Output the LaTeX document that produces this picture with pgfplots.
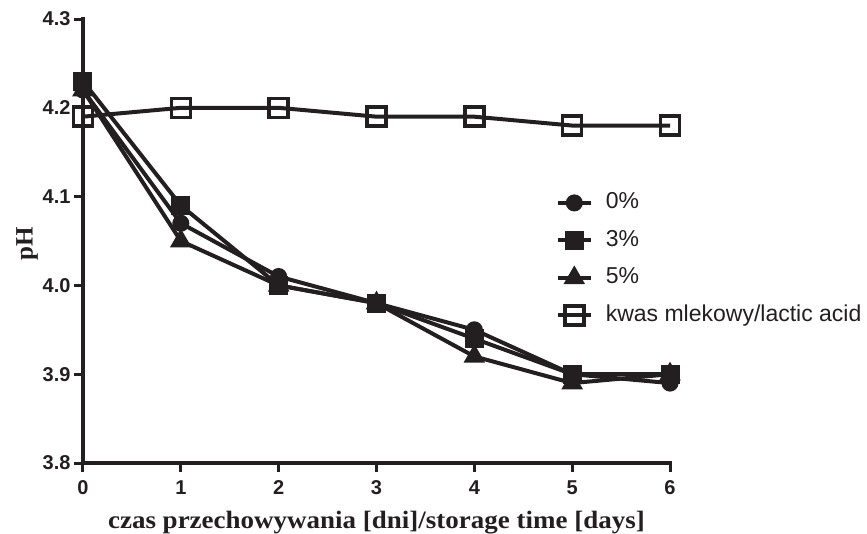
\documentclass[border=0pt]{standalone}
\usepackage{pgfplots}
\pgfplotsset{compat=1.18}
\usepackage{fontspec}
\setmainfont{Liberation Serif}
\setsansfont{Liberation Sans}
\newfontfamily\labelfont[FakeStretch=1.08]{Liberation Serif}
\definecolor{ink}{HTML}{231F20}
\begin{document}
\begin{tikzpicture}
\useasboundingbox (-83pt,-70pt) rectangle (784pt,463pt);
\begin{axis}[
  at={(0pt,0pt)}, anchor=south west,
  scale only axis, width=587pt, height=444pt,
  xmin=0, xmax=6, ymin=3.8, ymax=4.3,
  axis lines*=left,
  axis line style={line width=4pt, line cap=rect, ink},
  xtick={0,...,6}, ytick={3.8,3.9,4.0,4.1,4.2,4.3},
  yticklabel style={/pgf/number format/.cd, fixed, fixed zerofill, precision=1},
  xticklabel style={yshift=-5pt},
  tick style={line width=3pt, ink},
  tick align=outside, major tick length=9pt,
  minor tick num=0,
  tick label style={font=\sffamily\bfseries\fontsize{20}{22}\selectfont, text=ink},
  /pgf/number format/assume math mode=true,
  xlabel={czas przechowywania [dni]/storage time [days]},
  ylabel={pH},
  xlabel style={font=\labelfont\bfseries\fontsize{25}{28}\selectfont, text=ink,
    at={(axis description cs:0.5,0)}, anchor=base, yshift=-65pt},
  ylabel style={font=\rmfamily\bfseries\fontsize{25}{28}\selectfont, text=ink,
    at={(axis description cs:0,0.494)}, anchor=center, yshift=56pt},
  clip=false,
  every axis plot/.append style={line width=4pt, ink},
  legend style={draw=none, fill=none, at={(axis description cs:0.800,0.6155)}, anchor=north west,
    font=\sffamily\fontsize{23}{26}\selectfont, text=ink,
    nodes={inner sep=0pt, text height=17pt, text depth=5pt},
    row sep=15.5pt,
    /tikz/every odd column/.append style={column sep=13pt}},
  legend cell align=left,
  legend image code/.code={\draw[#1] (0pt,0pt) -- (33pt,0pt); \draw[#1,only marks] plot coordinates {(16.5pt,0pt)};},
]
\addplot[mark=square, mark options={fill=white, line width=3.5pt, mark size=9.5pt}, forget plot]
  coordinates {(0,4.19) (1,4.20) (2,4.20) (3,4.19) (4,4.19) (5,4.18) (6,4.18)};
\addplot[mark=*, mark options={mark size=6.5pt}]
  coordinates {(0,4.22) (1,4.07) (2,4.01) (3,3.98) (4,3.95) (5,3.90) (6,3.89)};
\addlegendentry{0\%}
\addplot[mark=square*, mark options={mark size=7.5pt}]
  coordinates {(0,4.23) (1,4.09) (2,4.00) (3,3.98) (4,3.94) (5,3.90) (6,3.90)};
\addlegendentry{3\%}
\addplot[mark=triangle*, mark options={mark size=8.5pt}]
  coordinates {(0,4.22) (1,4.05) (2,4.00) (3,3.98) (4,3.92) (5,3.89) (6,3.90)};
\addlegendentry{5\%}
\addlegendimage{line width=4pt, ink, mark=square, mark options={fill=white, line width=3.5pt, mark size=9.5pt}}
\addlegendentry{kwas mlekowy/lactic acid}
\end{axis}
\end{tikzpicture}
\end{document}
